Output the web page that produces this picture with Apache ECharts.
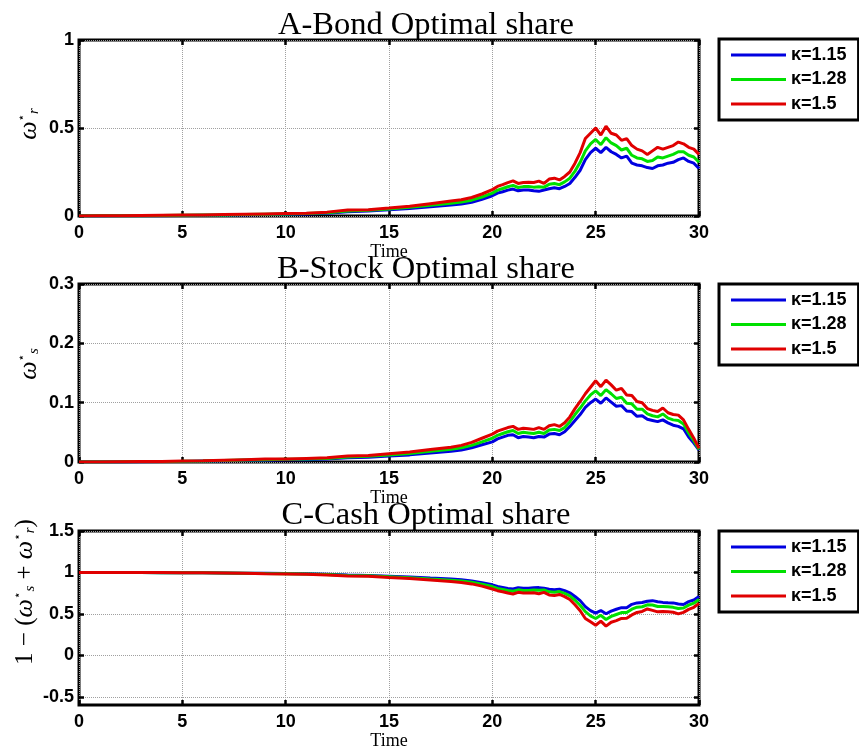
<!DOCTYPE html>
<html>
<head>
<meta charset="utf-8">
<title>Optimal shares</title>
<script src="https://cdn.jsdelivr.net/npm/echarts@6/dist/echarts.min.js"></script>
<style>
  html, body { margin: 0; padding: 0; background: #fff; }
  #main { width: 859px; height: 751px; }
</style>
</head>
<body>
<div id="main"></div>
<script>
// time grid (coarse where the curves are flat, finer after t=20)
var time = [0, 1, 2, 3, 4, 5, 6, 7, 8, 9, 10, 11, 12, 13, 14, 15, 16, 17, 18,
    18.5, 19, 19.5, 20,
    20.25, 20.5, 20.75, 21, 21.25, 21.5, 21.75, 22, 22.25, 22.5,
    22.75, 23, 23.25, 23.5, 23.75, 24, 24.25, 24.5, 24.75, 25,
    25.25, 25.5, 25.75, 26, 26.25, 26.5, 26.75, 27, 27.25, 27.5,
    27.75, 28, 28.25, 28.5, 28.75, 29, 29.25, 29.5, 29.75, 30];

var kappaNames = ['κ=1.15', 'κ=1.28', 'κ=1.5'];

// A - bond share
var bondK115 = [0, 0, 0.001, 0.002, 0.002, 0.003, 0.004, 0.005, 0.007, 0.008, 0.01, 0.012, 0.016, 0.024, 0.028, 0.035, 0.043, 0.053, 0.062,
    0.068, 0.078, 0.095, 0.115,
    0.13, 0.138, 0.147, 0.153, 0.143, 0.148, 0.148, 0.143, 0.14, 0.148,
    0.155, 0.16, 0.155, 0.168, 0.185, 0.22, 0.26, 0.32, 0.36, 0.385,
    0.36, 0.39, 0.365, 0.35, 0.33, 0.34, 0.30, 0.29, 0.285, 0.275,
    0.27, 0.285, 0.29, 0.30, 0.305, 0.32, 0.33, 0.31, 0.30, 0.27];
var bondK128 = [0, 0.001, 0.001, 0.002, 0.003, 0.004, 0.005, 0.006, 0.008, 0.01, 0.012, 0.014, 0.019, 0.029, 0.032, 0.04, 0.049, 0.061, 0.072,
    0.079, 0.09, 0.108, 0.13,
    0.147, 0.156, 0.166, 0.174, 0.162, 0.167, 0.168, 0.164, 0.166, 0.164,
    0.18, 0.185, 0.178, 0.194, 0.215, 0.255, 0.305, 0.37, 0.41, 0.435,
    0.405, 0.445, 0.415, 0.40, 0.375, 0.385, 0.345, 0.33, 0.325, 0.31,
    0.315, 0.335, 0.33, 0.34, 0.35, 0.365, 0.365, 0.345, 0.335, 0.305];
var bondK150 = [0, 0.001, 0.002, 0.003, 0.004, 0.005, 0.006, 0.008, 0.01, 0.012, 0.014, 0.016, 0.022, 0.034, 0.036, 0.045, 0.055, 0.07, 0.085,
    0.092, 0.105, 0.125, 0.15,
    0.168, 0.178, 0.19, 0.2, 0.185, 0.19, 0.192, 0.19, 0.198, 0.185,
    0.21, 0.215, 0.205, 0.225, 0.25, 0.3, 0.36, 0.44, 0.47, 0.5,
    0.46, 0.51, 0.47, 0.46, 0.43, 0.44, 0.40, 0.38, 0.37, 0.35,
    0.37, 0.39, 0.38, 0.39, 0.40, 0.42, 0.41, 0.39, 0.38, 0.35];

// B - stock share
var stockK115 = [0, 0, 0, 0.0005, 0.001, 0.001, 0.0015, 0.002, 0.003, 0.003, 0.004, 0.004, 0.005, 0.007, 0.008, 0.01, 0.012, 0.015, 0.018,
    0.02, 0.024, 0.029, 0.034,
    0.039, 0.042, 0.045, 0.046, 0.041, 0.043, 0.042, 0.041, 0.043, 0.042,
    0.047, 0.048, 0.046, 0.051, 0.06, 0.07, 0.08, 0.092, 0.1, 0.106,
    0.099, 0.108, 0.101, 0.094, 0.095, 0.086, 0.085, 0.077, 0.078, 0.072,
    0.07, 0.068, 0.071, 0.066, 0.062, 0.06, 0.056, 0.042, 0.032, 0.02];
var stockK128 = [0, 0, 0.0003, 0.0008, 0.001, 0.0012, 0.0018, 0.0025, 0.0035, 0.004, 0.0045, 0.005, 0.006, 0.0085, 0.0095, 0.012, 0.0145, 0.018, 0.0215,
    0.024, 0.028, 0.034, 0.04,
    0.045, 0.048, 0.051, 0.053, 0.048, 0.05, 0.049, 0.048, 0.05, 0.048,
    0.054, 0.055, 0.053, 0.058, 0.068, 0.08, 0.091, 0.103, 0.113, 0.12,
    0.112, 0.122, 0.115, 0.107, 0.109, 0.099, 0.098, 0.089, 0.089, 0.081,
    0.078, 0.076, 0.081, 0.074, 0.071, 0.07, 0.064, 0.049, 0.036, 0.021];
var stockK150 = [0, 0, 0.0005, 0.001, 0.001, 0.0015, 0.002, 0.003, 0.004, 0.005, 0.005, 0.006, 0.007, 0.01, 0.011, 0.014, 0.017, 0.021, 0.025,
    0.028, 0.033, 0.04, 0.047,
    0.052, 0.055, 0.058, 0.06, 0.055, 0.057, 0.056, 0.055, 0.058, 0.055,
    0.061, 0.063, 0.06, 0.066, 0.076, 0.09, 0.102, 0.115, 0.126, 0.137,
    0.127, 0.138, 0.13, 0.121, 0.124, 0.113, 0.112, 0.102, 0.1, 0.09,
    0.087, 0.085, 0.091, 0.083, 0.08, 0.079, 0.071, 0.055, 0.04, 0.023];

// C - cash share
var cashK115 = [1, 1, 0.999, 0.998, 0.997, 0.996, 0.995, 0.993, 0.99, 0.989, 0.986, 0.984, 0.979, 0.969, 0.964, 0.955, 0.945, 0.932, 0.92,
    0.912, 0.898, 0.876, 0.851,
    0.831, 0.82, 0.808, 0.801, 0.816, 0.809, 0.81, 0.816, 0.817, 0.81,
    0.798, 0.792, 0.799, 0.781, 0.755, 0.71, 0.66, 0.588, 0.54, 0.509,
    0.541, 0.502, 0.534, 0.556, 0.575, 0.574, 0.615, 0.633, 0.637, 0.653,
    0.66, 0.647, 0.639, 0.634, 0.633, 0.62, 0.614, 0.648, 0.668, 0.71];
var cashK128 = [1, 1, 0.999, 0.998, 0.997, 0.996, 0.995, 0.994, 0.99, 0.986, 0.984, 0.981, 0.975, 0.963, 0.959, 0.948, 0.937, 0.921, 0.906,
    0.897, 0.882, 0.858, 0.83,
    0.808, 0.796, 0.783, 0.773, 0.79, 0.783, 0.783, 0.788, 0.784, 0.788,
    0.766, 0.76, 0.769, 0.748, 0.717, 0.665, 0.604, 0.527, 0.477, 0.445,
    0.483, 0.433, 0.47, 0.493, 0.516, 0.516, 0.557, 0.581, 0.586, 0.609,
    0.607, 0.589, 0.589, 0.586, 0.579, 0.565, 0.571, 0.606, 0.629, 0.674];
var cashK150 = [1, 1, 1, 0.999, 0.998, 0.997, 0.996, 0.994, 0.99, 0.985, 0.982, 0.978, 0.97, 0.957, 0.953, 0.94, 0.928, 0.91, 0.89,
    0.88, 0.862, 0.835, 0.8,
    0.78, 0.767, 0.752, 0.74, 0.76, 0.753, 0.752, 0.755, 0.744, 0.76,
    0.729, 0.722, 0.735, 0.709, 0.674, 0.61, 0.538, 0.445, 0.404, 0.363,
    0.413, 0.352, 0.4, 0.419, 0.446, 0.447, 0.488, 0.518, 0.53, 0.56,
    0.543, 0.525, 0.529, 0.527, 0.52, 0.501, 0.519, 0.555, 0.58, 0.627];

var cashTicks = [-0.5, 0, 0.5, 1, 1.5];

var colors = ['#0000e0', '#00e000', '#e00000'];
var sansBold = { fontFamily: 'Liberation Sans', fontWeight: 'bold', fontSize: 18, color: '#000' };

function pairs(values) {
    return time.map(function (t, i) { return [t, values[i]]; });
}

// one panel = grid + bottom/top x axis + left/right y axis
var grids = [
    { left: 79, top: 40, width: 620, height: 176 },
    { left: 79, top: 284, width: 620, height: 178 },
    { left: 79, top: 531, width: 620, height: 177 }
];
grids.forEach(function (g) {
    g.show = true;
    g.borderColor = '#000';
    g.borderWidth = 3;
    g.backgroundColor = '#fff';
    g.containLabel = false;
});

var tickStyle = { show: true, inside: true, length: 5, lineStyle: { color: '#000', width: 2.5 } };
var gridLine = { show: true, lineStyle: { color: '#a0a0a0', type: 'dotted', width: 1 } };

var xAxes = [];
var yAxes = [];
var yRanges = [
    { min: 0, max: 1, interval: 0.5 },
    { min: 0, max: 0.3, interval: 0.1 },
    { min: -0.6, max: 1.5, custom: cashTicks }
];
for (var p = 0; p < 3; p++) {
    ['bottom', 'top'].forEach(function (pos) {
        xAxes.push({
            type: 'value', gridIndex: p, position: pos,
            min: 0, max: 30, interval: 5,
            name: pos === 'bottom' ? 'Time' : '',
            nameLocation: 'middle', nameGap: 25,
            nameTextStyle: { fontFamily: 'Liberation Serif', fontSize: 18, color: '#000' },
            axisLine: { show: false, onZero: false },
            axisTick: tickStyle,
            axisLabel: pos === 'bottom' ? Object.assign({ margin: 8 }, sansBold) : { show: false },
            splitLine: pos === 'bottom' ? gridLine : { show: false }
        });
    });
    ['left', 'right'].forEach(function (pos) {
        var r = yRanges[p];
        var ax = {
            type: 'value', gridIndex: p, position: pos,
            min: r.min, max: r.max,
            axisLine: { show: false, onZero: false },
            axisTick: Object.assign({}, tickStyle),
            axisLabel: pos === 'left' ? Object.assign({ margin: 5 }, sansBold) : { show: false },
            splitLine: pos === 'left' ? gridLine : { show: false }
        };
        if (r.custom) {
            ax.axisTick.customValues = r.custom;
            ax.axisLabel.customValues = r.custom;
        } else {
            ax.interval = r.interval;
        }
        yAxes.push(ax);
    });
}

var panelData = [
    [bondK115, bondK128, bondK150],
    [stockK115, stockK128, stockK150],
    [cashK115, cashK128, cashK150]
];
var series = [];
panelData.forEach(function (set, p) {
    set.forEach(function (vals, k) {
        series.push({
            name: kappaNames[k],
            type: 'line',
            xAxisIndex: p * 2,
            yAxisIndex: p * 2,
            data: pairs(vals),
            symbol: 'none',
            smooth: false,
            lineStyle: { color: colors[k], width: 3 },
            itemStyle: { color: colors[k] },
            z: 2 + k
        });
    });
});

// legend box at the right of each panel, plain line keys
var legendTops = [39, 284, 531];
var legends = legendTops.map(function (top) {
    return {
        data: kappaNames.map(function (n) { return { name: n, icon: 'rect' }; }),
        orient: 'vertical',
        left: 719,
        top: top,
        padding: [7, 12, 7, 12],
        itemWidth: 55,
        itemHeight: 3,
        itemGap: 6.5,
        borderColor: '#000',
        borderWidth: 3,
        backgroundColor: '#fff',
        selectedMode: false,
        textStyle: sansBold
    };
});

// titles and y-axis labels
var titleFont = { fontFamily: 'Liberation Serif', fontSize: 32.5, fill: '#000', align: 'center', verticalAlign: 'middle' };
function titleText(txt, y) {
    return { type: 'text', x: 426, y: y, style: Object.assign({ text: txt }, titleFont) };
}
var mathRich = {
    n: { fontFamily: 'Liberation Serif', fontSize: 25, lineHeight: 26, color: '#000' },
    w: { fontFamily: 'Liberation Serif', fontStyle: 'italic', fontSize: 26, lineHeight: 26, color: '#000' },
    sup: { fontFamily: 'DejaVu Sans', fontSize: 12, lineHeight: 12, verticalAlign: 'top', color: '#000' },
    sub: { fontFamily: 'Liberation Serif', fontStyle: 'italic', fontSize: 15, lineHeight: 12, verticalAlign: 'bottom', color: '#000' }
};
function yName(txt, x, y) {
    return {
        type: 'text', x: x, y: y, rotation: Math.PI / 2,
        style: { text: txt, rich: mathRich, align: 'center', verticalAlign: 'middle' }
    };
}

var myChart = echarts.init(document.getElementById('main'));
var option = {
    backgroundColor: '#fff',
    animation: false,
    grid: grids,
    xAxis: xAxes,
    yAxis: yAxes,
    legend: legends,
    series: series,
    graphic: [
        titleText('A-Bond Optimal share', 25),
        titleText('B-Stock Optimal share', 269),
        titleText('C-Cash Optimal share', 515),
        yName('{w|ω}{sup|⋆}{sub|r}', 29, 124),
        yName('{w|ω}{sup|⋆}{sub|s}', 29, 364),
        yName('{n|1 − (}{w|ω}{sup|⋆}{sub|s}{n| + }{w|ω}{sup|⋆}{sub|r}{n|)}', 25, 592)
    ]
};
myChart.setOption(option);
</script>
</body>
</html>
